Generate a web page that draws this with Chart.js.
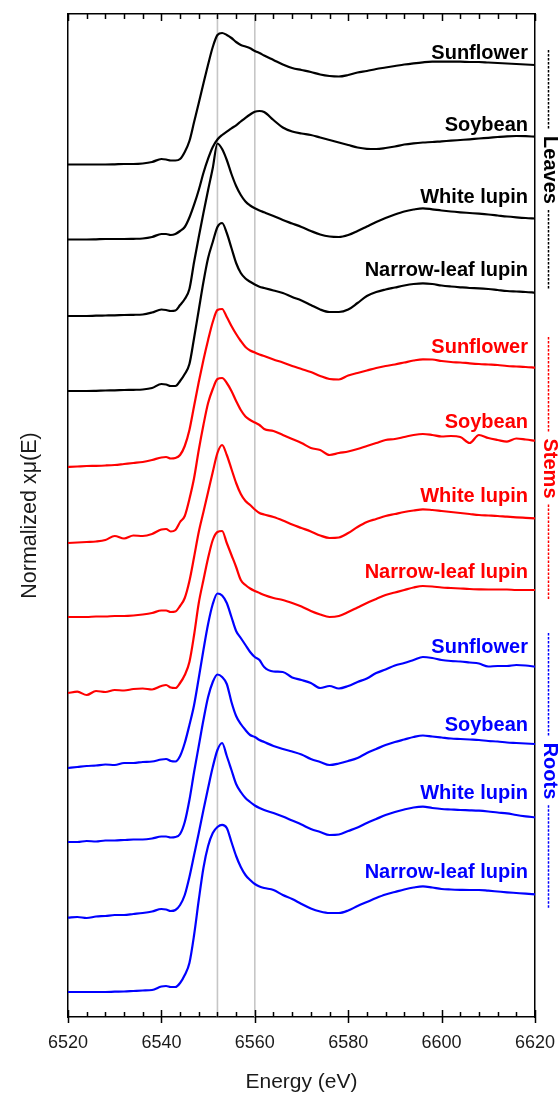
<!DOCTYPE html>
<html>
<head>
<meta charset="utf-8">
<script src="https://cdn.jsdelivr.net/npm/chart.js@4.4.1/dist/chart.umd.min.js"></script>
<style>
html,body{margin:0;padding:0;background:#fff;}
#wrap{width:558px;height:1093px;position:relative;}
</style>
</head>
<body>
<div id="wrap"><canvas id="c" width="558" height="1093"></canvas></div>
<script>
// ---------------- data ----------------
const energy = [6520,6522,6524,6526,6528,6530,6532,6534,6536,6538,6540,
  6541,6542,6543,6544,6545,6546,6547,6548,6549,6550,6551,6552,6553,6554,6555,6556,6557,6558,6559,6560,6561,6562,
  6564,6566,6568,6570,6572,6574,6576,6578,6580,6582,6584,6586,6588,6590,6592,6594,6596,6598,6600,6602,6604,6606,6608,6610,6612,6614,6616,6618,6620];

// vertical stacking offset of each spectrum (normalized units)
const offsets = [8.52, 7.77, 7.01, 6.26, 5.50, 4.74, 4.00, 3.24, 2.49, 1.75, 0.99, 0.25];

const speciesNames = ['Sunflower', 'Soybean', 'White lupin', 'Narrow-leaf lupin'];
const tissueNames = ['Leaves', 'Stems', 'Roots'];
const tissueColors = ['#000000', '#ff0000', '#0000ff'];

const referenceEnergies = [6552, 6560];
const xTickLabels = [6520, 6540, 6560, 6580, 6600, 6620];

const leavesSunflower = [0.005,0.005,0.005,0.005,0.005,0.007,0.01,0.01,0.015,0.03,0.06,
  0.055,0.045,0.045,0.06,0.13,0.24,0.43,0.62,0.815,1.005,1.18,1.30,1.32,1.30,1.27,1.23,1.20,1.185,1.167,1.14,1.12,1.095,
  1.05,1.005,0.97,0.95,0.93,0.905,0.89,0.885,0.90,0.925,0.94,0.96,0.975,0.99,1.005,1.017,1.027,1.033,1.033,1.033,1.033,1.03,1.03,1.025,1.02,1.015,1.01,1.005,1.00];
const leavesSoybean = [0.005,0.005,0.005,0.007,0.01,0.01,0.01,0.012,0.015,0.03,0.06,
  0.06,0.05,0.06,0.09,0.13,0.225,0.353,0.50,0.67,0.813,0.93,1.005,1.05,1.083,1.117,1.147,1.185,1.222,1.255,1.283,1.29,1.28,
  1.20,1.125,1.085,1.065,1.05,1.025,1.00,0.975,0.95,0.925,0.912,0.91,0.92,0.935,0.955,0.967,0.975,0.98,0.987,0.993,1.00,1.007,1.015,1.022,1.03,1.037,1.04,1.038,1.033];
const leavesWhiteLupin = [0,0,0,0.003,0.005,0.007,0.01,0.012,0.015,0.035,0.065,
  0.06,0.05,0.055,0.11,0.17,0.27,0.54,0.79,1.03,1.26,1.48,1.725,1.67,1.56,1.42,1.30,1.21,1.145,1.105,1.077,1.055,1.037,
  1.00,0.96,0.925,0.89,0.85,0.815,0.795,0.79,0.81,0.85,0.895,0.94,0.98,1.015,1.045,1.065,1.077,1.067,1.055,1.045,1.037,1.03,1.023,1.015,1.005,0.995,0.987,0.98,0.975];
const leavesNarrowLeaf = [0,0,0,0.002,0.005,0.007,0.01,0.012,0.015,0.03,0.07,
  0.065,0.05,0.05,0.10,0.17,0.27,0.53,0.81,1.09,1.33,1.49,1.64,1.68,1.58,1.43,1.28,1.18,1.125,1.093,1.065,1.043,1.03,
  1.005,0.98,0.94,0.905,0.86,0.815,0.79,0.79,0.815,0.88,0.95,0.99,1.015,1.035,1.055,1.07,1.077,1.07,1.055,1.045,1.037,1.03,1.027,1.02,1.01,1.00,0.995,0.99,0.983];
const stemsSunflower = [0,0.005,0.01,0.012,0.015,0.02,0.03,0.04,0.05,0.07,0.095,
  0.10,0.085,0.09,0.12,0.21,0.37,0.61,0.85,1.07,1.27,1.45,1.57,1.58,1.50,1.41,1.33,1.26,1.20,1.165,1.145,1.125,1.11,
  1.075,1.045,1.01,0.98,0.95,0.91,0.88,0.875,0.915,0.94,0.965,0.99,1.01,1.025,1.045,1.065,1.077,1.075,1.06,1.05,1.045,1.037,1.03,1.025,1.02,1.01,1.005,1.00,0.993];
const stemsSoybean = [0,0.005,0.01,0.015,0.03,0.07,0.045,0.075,0.07,0.09,0.135,
  0.14,0.115,0.13,0.21,0.27,0.44,0.65,0.93,1.18,1.40,1.54,1.64,1.65,1.60,1.52,1.42,1.33,1.265,1.23,1.205,1.18,1.14,
  1.12,1.08,1.04,1.00,0.95,0.93,0.88,0.90,0.915,0.94,0.97,1.00,1.03,1.04,1.06,1.08,1.09,1.08,1.065,1.07,1.06,1.00,1.08,1.05,1.03,1.013,1.045,1.035,1.023];
const stemsWhiteLupin = [0,0,0,0.005,0.005,0.01,0.01,0.015,0.025,0.04,0.065,
  0.065,0.05,0.055,0.11,0.19,0.36,0.60,0.85,1.05,1.25,1.45,1.64,1.72,1.62,1.48,1.34,1.23,1.16,1.12,1.075,1.04,1.025,
  1.00,0.965,0.925,0.89,0.855,0.815,0.79,0.795,0.84,0.90,0.95,0.98,1.01,1.03,1.05,1.065,1.077,1.07,1.06,1.05,1.04,1.03,1.02,1.015,1.01,1.003,0.997,0.992,0.987];
const stemsNarrowLeaf = [0,0.013,-0.02,0.02,0.01,0.03,0.025,0.04,0.045,0.035,0.07,
  0.08,0.055,0.05,0.10,0.18,0.31,0.58,0.90,1.13,1.35,1.53,1.61,1.62,1.50,1.38,1.26,1.13,1.08,1.045,1.02,1.00,0.98,
  0.95,0.93,0.90,0.865,0.82,0.785,0.76,0.77,0.81,0.855,0.90,0.94,0.98,1.005,1.03,1.055,1.07,1.065,1.055,1.05,1.045,1.04,1.037,1.035,1.035,1.035,1.03,1.03,1.03];
const rootsSunflower = [0,0.01,0.02,0.025,0.035,0.03,0.05,0.05,0.06,0.065,0.085,
  0.09,0.07,0.065,0.12,0.25,0.43,0.63,0.90,1.18,1.44,1.64,1.745,1.725,1.65,1.51,1.37,1.30,1.23,1.16,1.11,1.08,1.01,
  0.965,0.96,0.905,0.88,0.85,0.80,0.82,0.795,0.82,0.86,0.895,0.95,0.985,1.025,1.05,1.08,1.11,1.10,1.08,1.07,1.065,1.055,1.045,1.015,1.02,1.02,1.03,1.025,1.013];
const rootsSoybean = [0,0,0.01,0.005,0.015,0.015,0.02,0.025,0.025,0.035,0.055,
  0.055,0.045,0.05,0.08,0.20,0.42,0.70,0.96,1.22,1.45,1.60,1.675,1.65,1.58,1.40,1.26,1.18,1.12,1.07,1.05,1.02,1.00,
  0.96,0.93,0.905,0.875,0.83,0.80,0.77,0.785,0.81,0.84,0.89,0.93,0.97,1.00,1.025,1.05,1.065,1.055,1.045,1.035,1.03,1.025,1.02,1.01,1.005,0.995,0.99,0.985,0.98];
const rootsWhiteLupin = [0.003,0.01,0,0.015,0.02,0.03,0.03,0.04,0.05,0.065,0.09,
  0.085,0.07,0.08,0.13,0.23,0.41,0.63,0.85,1.08,1.30,1.51,1.68,1.75,1.62,1.48,1.34,1.26,1.20,1.16,1.125,1.10,1.08,
  1.05,1.015,0.975,0.935,0.89,0.86,0.83,0.835,0.87,0.905,0.95,0.99,1.03,1.06,1.085,1.105,1.113,1.10,1.09,1.085,1.08,1.077,1.073,1.065,1.055,1.047,1.03,1.017,1.007];
const rootsNarrowLeaf = [0,0,0,0,0,0.003,0.005,0.01,0.015,0.02,0.055,
  0.06,0.05,0.05,0.09,0.17,0.29,0.57,0.92,1.24,1.46,1.59,1.65,1.672,1.64,1.50,1.36,1.25,1.17,1.12,1.08,1.055,1.04,
  1.02,0.97,0.93,0.88,0.835,0.805,0.79,0.79,0.815,0.86,0.90,0.94,0.975,1.00,1.025,1.045,1.057,1.045,1.03,1.025,1.022,1.02,1.02,1.013,1.005,0.997,0.99,0.983,0.977];

const series = [leavesSunflower, leavesSoybean, leavesWhiteLupin, leavesNarrowLeaf,
                stemsSunflower, stemsSoybean, stemsWhiteLupin, stemsNarrowLeaf,
                rootsSunflower, rootsSoybean, rootsWhiteLupin, rootsNarrowLeaf];

// ---------------- layout / style ----------------
const FONT = '"Liberation Sans", Arial, Helvetica, sans-serif';
const Y_MAX = 10.03;
// height of each curve's name above its baseline (y units)
const labelLift = [1.12, 1.15, 1.19, 1.21, 1.20, 1.21, 1.21, 1.21, 1.21, 1.17, 1.25, 1.20];
// extent (y units) of the bracket of each tissue group on the right
const tissueSpans = [[9.67, 7.27], [6.80, 4.17], [3.84, 1.08]];

const datasets = series.map((vals, k) => ({
  label: tissueNames[Math.floor(k / 4)] + ' ' + speciesNames[k % 4],
  data: energy.map((e, i) => ({ x: e, y: vals[i] + offsets[k] })),
  borderColor: tissueColors[Math.floor(k / 4)],
  borderWidth: 2.2,
  pointRadius: 0,
  fill: false,
  cubicInterpolationMode: 'monotone',
  order: 0
}));
referenceEnergies.forEach(e => datasets.push({
  label: 'ref ' + e,
  data: [{ x: e, y: 0 }, { x: e, y: Y_MAX }],
  borderColor: '#c6c6c6',
  borderWidth: 1.6,
  pointRadius: 0,
  fill: false,
  order: 1
}));

const decorPlugin = {
  id: 'decor',
  afterDatasetsDraw(chart) {
    const ctx = chart.ctx, xs = chart.scales.x, ys = chart.scales.y;
    ctx.save();
    ctx.font = 'bold 20px ' + FONT;
    ctx.textAlign = 'right';
    ctx.textBaseline = 'middle';
    series.forEach((s, k) => {
      ctx.fillStyle = tissueColors[Math.floor(k / 4)];
      ctx.fillText(speciesNames[k % 4], xs.getPixelForValue(6618.5), ys.getPixelForValue(offsets[k] + labelLift[k]));
    });
    ctx.restore();
  },
  afterDraw(chart) {
    const ctx = chart.ctx, xs = chart.scales.x, ys = chart.scales.y, a = chart.chartArea;
    ctx.save();
    ctx.strokeStyle = '#000';
    ctx.lineWidth = 1.5;
    ctx.beginPath();
    for (let e = xs.min; e <= xs.max + 1e-6; e += 4) {
      const px = Math.round(xs.getPixelForValue(e)) + 0.5;
      const major = xTickLabels.includes(e);
      const len = major ? 7 : 5;
      ctx.moveTo(px, a.bottom + (major ? 6 : 0));
      ctx.lineTo(px, a.bottom - len);
      ctx.moveTo(px, a.top);
      ctx.lineTo(px, a.top + len);
    }
    ctx.stroke();
    ctx.restore();
    ctx.save();
    ctx.font = 'bold 20px ' + FONT;
    const xc = a.right + 13.5;
    tissueNames.forEach((name, g) => {
      const y0 = ys.getPixelForValue(tissueSpans[g][0]);
      const y1 = ys.getPixelForValue(tissueSpans[g][1]);
      const mid = (y0 + y1) / 2;
      const w = ctx.measureText(name).width;
      ctx.strokeStyle = tissueColors[g];
      ctx.fillStyle = tissueColors[g];
      ctx.lineWidth = 1.5;
      ctx.setLineDash([2.5, 1.5]);
      ctx.beginPath();
      ctx.moveTo(xc, y0); ctx.lineTo(xc, mid - w / 2 - 6);
      ctx.moveTo(xc, mid + w / 2 + 6); ctx.lineTo(xc, y1);
      ctx.stroke();
      ctx.setLineDash([]);
      ctx.save();
      ctx.translate(xc + 1, mid);
      ctx.rotate(Math.PI / 2);
      ctx.textAlign = 'center';
      ctx.textBaseline = 'middle';
      ctx.fillText(name, 0, 0);
      ctx.restore();
    });
    ctx.restore();
  }
};

new Chart(document.getElementById('c'), {
  type: 'line',
  data: { datasets },
  options: {
    responsive: false,
    animation: false,
    devicePixelRatio: 1,
    layout: { padding: { left: 0, right: 23, top: 0, bottom: 0 } },
    plugins: { legend: { display: false }, tooltip: { enabled: false } },
    scales: {
      x: {
        type: 'linear', position: 'bottom', min: 6520, max: 6620,
        afterBuildTicks: s => { s.ticks = xTickLabels.map(v => ({ value: v })); },
        ticks: { callback: v => String(v), font: { family: FONT, size: 18 }, color: '#1a1a1a', padding: 15, maxRotation: 0, autoSkip: false },
        grid: { display: false, drawTicks: false },
        border: { display: true, color: '#000', width: 1.5 },
        title: { display: true, text: 'Energy (eV)', font: { family: FONT, size: 21, lineHeight: 1 }, color: '#1a1a1a', padding: { top: 0, bottom: 0 } },
        afterFit: s => { s.height = 76; s.paddingLeft = 0; s.paddingRight = 0; }
      },
      x2: {
        type: 'linear', position: 'top', min: 6520, max: 6620,
        ticks: { display: false }, grid: { display: false, drawTicks: false },
        border: { display: true, color: '#000', width: 1.5 },
        afterFit: s => { s.height = 14; s.paddingLeft = 0; s.paddingRight = 0; }
      },
      y: {
        type: 'linear', position: 'left', min: 0, max: Y_MAX,
        ticks: { display: false }, grid: { display: false, drawTicks: false },
        border: { display: true, color: '#000', width: 1.5 },
        title: { display: true, text: 'Normalized xμ(E)', font: { family: FONT, size: 21.5, lineHeight: 1.2 }, color: '#1a1a1a', padding: { top: 17, bottom: 0 } },
        afterFit: s => { s.width = 68; s.paddingTop = 0; s.paddingBottom = 0; }
      },
      y2: {
        type: 'linear', position: 'right', min: 0, max: Y_MAX,
        ticks: { display: false }, grid: { display: false, drawTicks: false },
        border: { display: true, color: '#000', width: 1.5 },
        afterFit: s => { s.width = 0; s.paddingTop = 0; s.paddingBottom = 0; }
      }
    }
  },
  plugins: [decorPlugin]
});
</script>
</body>
</html>
